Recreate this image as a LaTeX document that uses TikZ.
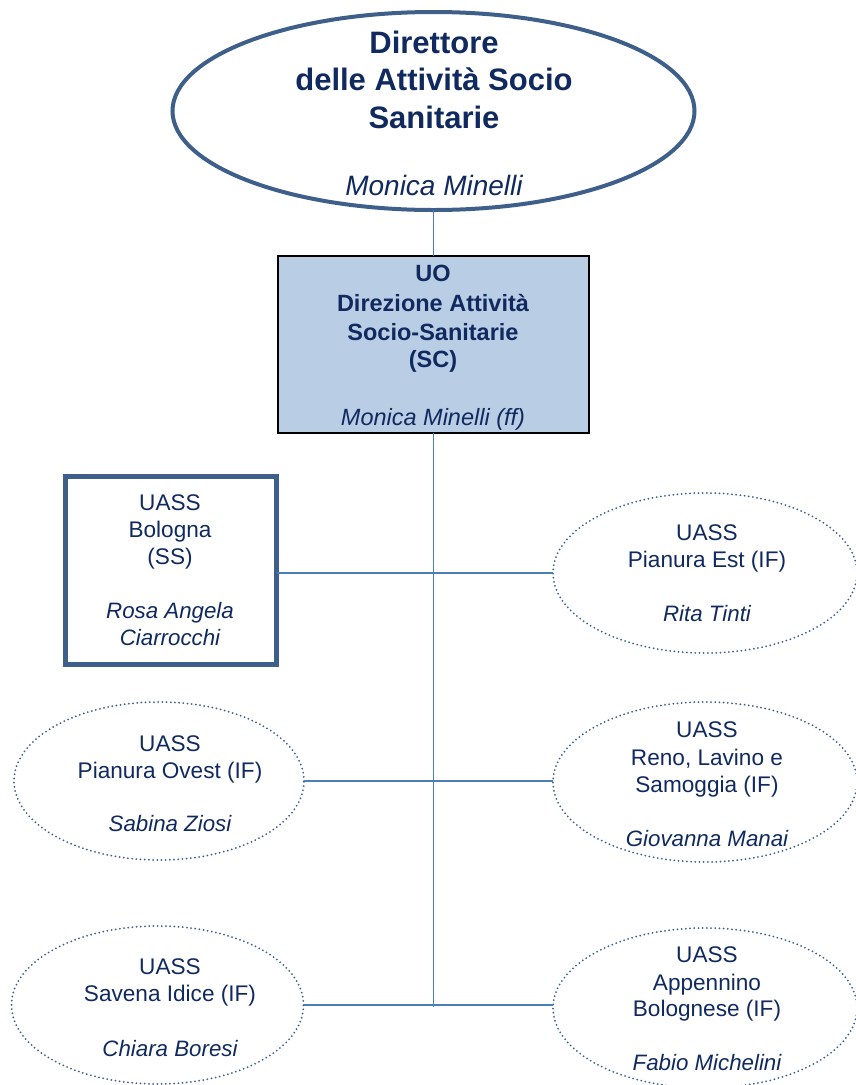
\documentclass[tikz,border=0pt]{standalone}
\usepackage{fontspec}
\setmainfont{Liberation Sans}
\usetikzlibrary{shapes.geometric}
\definecolor{txt}{HTML}{10295F}
\definecolor{bord}{HTML}{3E5F8A}
\definecolor{conn}{HTML}{4A7EBB}
\definecolor{uofill}{HTML}{B9CDE5}
\begin{document}
\begin{tikzpicture}[x=1pt,y=-1pt,
  topell/.style={ellipse, draw=bord, line width=4pt, minimum width=522pt, minimum height=198pt, inner sep=0pt, outer sep=0pt},
  uobox/.style={rectangle, draw=black, line width=2.5pt, fill=uofill, minimum width=311pt, minimum height=177pt, inner sep=0pt, outer sep=0pt},
  bolbox/.style={rectangle, draw=bord, line width=5pt, fill=white, minimum width=211pt, minimum height=188pt, inner sep=0pt, outer sep=0pt},
  dotell/.style={ellipse, draw=bord, line width=2pt, line cap=round, dash pattern=on 0pt off 4.2pt, minimum width=304pt, minimum height=160pt, inner sep=0pt, outer sep=0pt},
  link/.style={draw=conn, line width=1.6pt},
  tbig/.style={font=\bfseries\fontsize{31}{36}\selectfont, text=txt, anchor=base, inner sep=0pt},
  tbigit/.style={font=\itshape\fontsize{28}{32}\selectfont, text=txt, anchor=base, inner sep=0pt},
  tmid/.style={font=\bfseries\fontsize{23.5}{28}\selectfont, text=txt, anchor=base, inner sep=0pt},
  tmidit/.style={font=\itshape\fontsize{23.5}{28}\selectfont, text=txt, anchor=base, inner sep=0pt},
  tsm/.style={font=\fontsize{22.6}{27}\selectfont, text=txt, anchor=base, inner sep=0pt},
  tsmit/.style={font=\itshape\fontsize{22.3}{27}\selectfont, text=txt, anchor=base, inner sep=0pt}
]
\useasboundingbox (0,0) rectangle (856,1085);

% shapes
\node[topell] (dir) at (433.5,111) {};
\node[uobox] (uo) at (433.5,344.5) {};
\node[bolbox] (bol) at (171,570) {};
\node[dotell] (est) at (705,573) {};
\node[dotell, minimum width=290pt, minimum height=158pt] (ovest) at (159,781) {};
\node[dotell] (reno) at (705,782) {};
\node[dotell, minimum width=292pt, minimum height=158pt] (savena) at (157.5,1005) {};
\node[dotell] (app) at (705,1008) {};

% connectors
\coordinate (trunkend) at (433.5,1007);
\draw[link] (dir.south) -- (uo.north);
\draw[link] (uo.south) -- (trunkend);
\draw[link] (bol.east |- est.west) -- (est.west);
\draw[link] (ovest.east) -- (ovest.east -| reno.west);
\draw[link] (savena.east) -- (savena.east -| app.west);

% texts: director
\node[tbig] (d1) at (434,53) {Direttore};
\node[tbig] (d2) at (434,90.5) {delle Attività Socio};
\node[tbig] (d3) at (434,128) {Sanitarie};
\node[tbigit] (d4) at (434,195) {Monica Minelli};

% UO
\node[tmid] (u1) at (433,281.5) {UO};
\node[tmid] (u2) at (433,311) {Direzione Attività};
\node[tmid] (u3) at (433,340) {Socio-Sanitarie};
\node[tmid] (u4) at (433,367.5) {(SC)};
\node[tmidit] (u5) at (433,425) {Monica Minelli (ff)};

% Bologna
\node[tsm] (b1) at (170,510) {UASS};
\node[tsm] (b2) at (170,537) {Bologna};
\node[tsm] (b3) at (170,564) {(SS)};
\node[tsmit] (b4) at (170,618) {Rosa Angela};
\node[tsmit] (b5) at (170,645) {Ciarrocchi};

% Pianura Est
\node[tsm] (e1) at (707,540.5) {UASS};
\node[tsm] (e2) at (707,567.5) {Pianura Est (IF)};
\node[tsmit] (e3) at (707,621) {Rita Tinti};

% Pianura Ovest
\node[tsm] (o1) at (170,751) {UASS};
\node[tsm] (o2) at (170,778) {Pianura Ovest (IF)};
\node[tsmit] (o3) at (170,831.5) {Sabina Ziosi};

% Reno
\node[tsm] (r1) at (707,737.5) {UASS};
\node[tsm] (r2) at (707,765) {Reno, Lavino e};
\node[tsm] (r3) at (707,792.5) {Samoggia (IF)};
\node[tsmit] (r4) at (707,846.5) {Giovanna Manai};

% Savena
\node[tsm] (s1) at (170,974) {UASS};
\node[tsm] (s2) at (170,1001.5) {Savena Idice (IF)};
\node[tsmit] (s3) at (170,1056.5) {Chiara Boresi};

% Appennino
\node[tsm] (a1) at (707,962.5) {UASS};
\node[tsm] (a2) at (707,990) {Appennino};
\node[tsm] (a3) at (707,1016.5) {Bolognese (IF)};
\node[tsmit] (a4) at (707,1070.5) {Fabio Michelini};
\end{tikzpicture}
\end{document}
